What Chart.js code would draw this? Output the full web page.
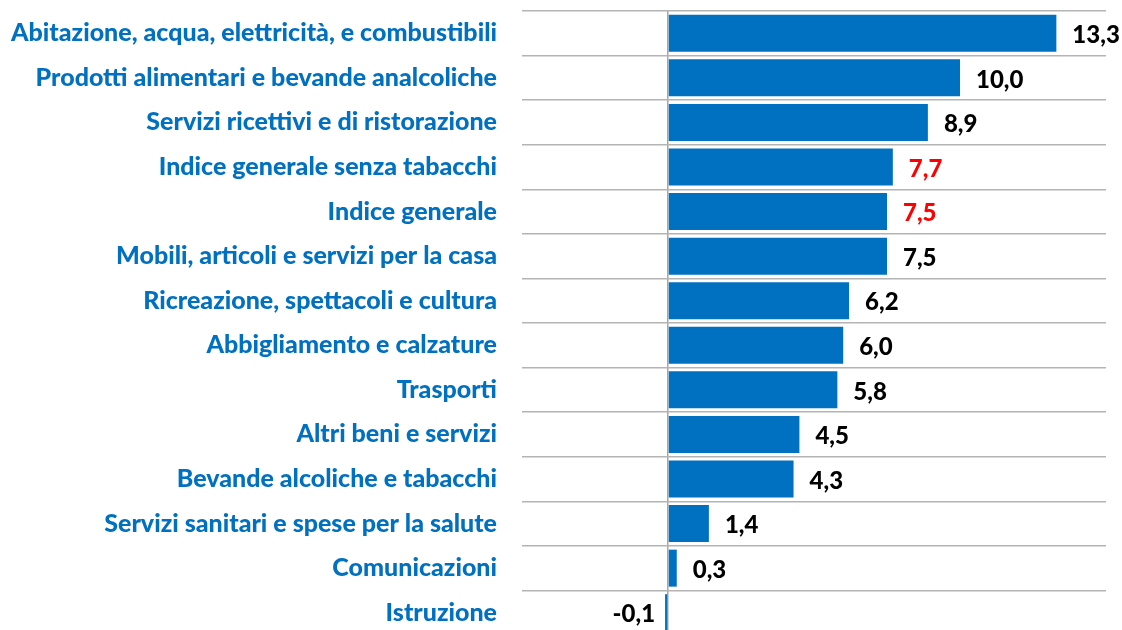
<!DOCTYPE html>
<html>
<head>
<meta charset="utf-8">
<script src="https://cdn.jsdelivr.net/npm/chart.js@4/dist/chart.umd.min.js"></script>
<style>
  html, body { margin: 0; padding: 0; background: #fff; overflow: hidden; }
  #wrap { width: 1122px; height: 640px; }
</style>
</head>
<body>
<div id="wrap"><canvas id="chart_inflazione"></canvas></div>
<script>
var categories = [
  "Abitazione, acqua, elettricità, e combustibili",
  "Prodotti alimentari e bevande analcoliche",
  "Servizi ricettivi e di ristorazione",
  "Indice generale senza tabacchi",
  "Indice generale",
  "Mobili, articoli e servizi per la casa",
  "Ricreazione, spettacoli e cultura",
  "Abbigliamento e calzature",
  "Trasporti",
  "Altri beni e servizi",
  "Bevande alcoliche e tabacchi",
  "Servizi sanitari e spese per la salute",
  "Comunicazioni",
  "Istruzione"
];
var values = [13.3, 10.0, 8.9, 7.7, 7.5, 7.5, 6.2, 6.0, 5.8, 4.5, 4.3, 1.4, 0.3, -0.1];
// indices shown in red
var highlighted = ["Indice generale senza tabacchi", "Indice generale"];

var FONT = "Lato";
var BLUE = "#0070C0";

// value labels next to the bars
var valueLabels = {
  id: "valueLabels",
  afterDatasetsDraw: function (chart) {
    var ctx = chart.ctx;
    var meta = chart.getDatasetMeta(0);
    ctx.save();
    ctx.font = "900 24px " + FONT;
    ctx.textBaseline = "middle";
    meta.data.forEach(function (bar, i) {
      var v = values[i];
      var txt = v.toFixed(1).replace(".", ",");
      ctx.fillStyle = highlighted.indexOf(categories[i]) >= 0 ? "#FF0000" : "#000000";
      if (v >= 0) {
        ctx.textAlign = "left";
        ctx.fillText(txt, bar.x + 16, bar.y + 2);
      } else {
        ctx.textAlign = "right";
        ctx.fillText(txt, bar.x - 10, bar.y + 2);
      }
    });
    ctx.restore();
  }
};

var ctx = document.getElementById("chart_inflazione").getContext("2d");
var chart = new Chart(ctx, {
  type: "bar",
  data: {
    labels: categories,
    datasets: [{
      data: values,
      backgroundColor: BLUE,
      borderWidth: 0,
      barPercentage: 0.83,
      categoryPercentage: 1.0
    }]
  },
  options: {
    indexAxis: "y",
    responsive: true,
    maintainAspectRatio: false,
    animation: false,
    layout: { padding: { top: 11, right: 16, bottom: 5, left: 0 } },
    plugins: {
      legend: { display: false },
      tooltip: { enabled: false }
    },
    scales: {
      x: {
        min: -5,
        max: 15,
        ticks: { display: false, stepSize: 5 },
        border: { display: false },
        grid: {
          drawTicks: false,
          lineWidth: 1.5,
          color: function (c) { return c.tick && c.tick.value === 0 ? "#a6a6a6" : "rgba(0,0,0,0)"; }
        },
        afterFit: function (scale) { scale.height = 0; scale.paddingLeft = 0; scale.paddingRight = 0; }
      },
      y: {
        border: { display: false },
        grid: { offset: true, drawTicks: false, color: "#b4b4b4", lineWidth: 1.5 },
        ticks: {
          color: BLUE,
          padding: 25,
          font: { family: FONT, size: 25, weight: 900 }
        },
        afterFit: function (scale) {
          scale.width = 522;
          scale.paddingTop = 0;
          scale.paddingBottom = 0;
        }
      }
    }
  },
  plugins: [valueLabels]
});
</script>
</body>
</html>
